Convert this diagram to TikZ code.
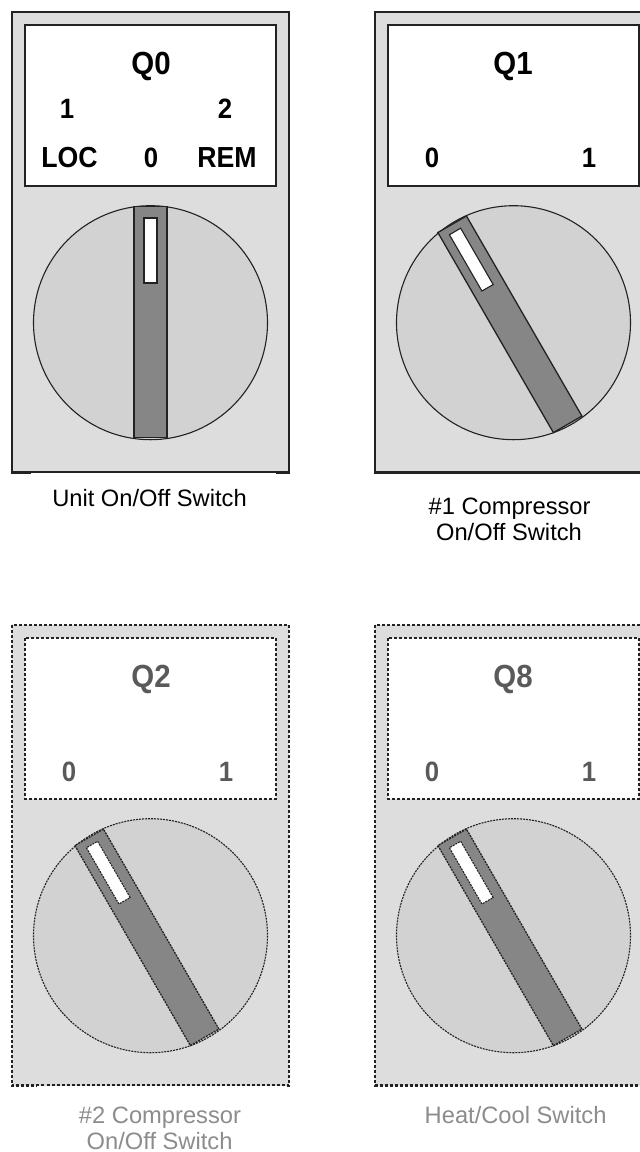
\documentclass[tikz,border=0pt]{standalone}
\usepackage{fontspec}
\setmainfont{Liberation Sans}
\newfontfamily\tallfont[FakeStretch=0.92]{Liberation Sans}
\definecolor{panelgray}{HTML}{DDDDDD}
\definecolor{dialgray}{HTML}{D2D2D2}
\definecolor{bargray}{HTML}{868686}
\definecolor{linedark}{HTML}{222222}
\definecolor{fadetext}{HTML}{5A5A5A}
\definecolor{captiongray}{HTML}{8C8C8C}
\tikzset{
  x=1pt,y=-1pt,
  panel/.style={fill=panelgray,draw=linedark,line width=2.2pt},
  labelbox/.style={fill=white,draw=linedark,line width=2.1pt},
  dial/.style={fill=dialgray,draw=linedark,line width=1.1pt},
  bar/.style={fill=bargray,draw=linedark,line width=1.3pt},
  slit/.style={fill=white,draw=linedark,line width=1.1pt},
  dashA/.style={dash pattern=on 3pt off 2pt},
  dashB/.style={dash pattern=on 2pt off 1pt},
  swA/.style={anchor=base,font=\tallfont\fontsize{32}{32}\selectfont\bfseries},
  swB/.style={anchor=base,font=\tallfont\fontsize{28}{28}\selectfont\bfseries},
  swC/.style={anchor=base,font=\tallfont\fontsize{29}{29}\selectfont\bfseries},
  captxt/.style={anchor=base,font=\fontsize{23.7}{23.7}\selectfont},
}
% #1 x, #2 y, #3 rotation, #4 panel line style, #5 dial line style, #6 bar shift, #7 slit shift
\newcommand{\switchpanel}[7]{%
  \begin{scope}[shift={(#1,#2)}]
    \draw[panel,#4] (12,12) rectangle (289,472.5);
    \draw[labelbox,#4] (25,25) rectangle (276,186);
    \draw[dial,#5] (150.5,322.7) circle[radius=117];
    \begin{scope}[shift={(150.5,322.7)},shift={#6},rotate=#3]
      \draw[bar,#5] (-16.5,-115.5) rectangle (16.5,115.5);
      \begin{scope}[shift={#7}]
        \draw[slit,#5] (-6.5,-104) rectangle (6.5,-39);
      \end{scope}
    \end{scope}
  \end{scope}}
\begin{document}
\begin{tikzpicture}
\useasboundingbox (0,0) rectangle (640,1152);
\clip (0,0) rectangle (640,1152);
\switchpanel{0}{0}{0}{}{}{(0,-0.7)}{(0,0)}
\switchpanel{363}{0}{30}{}{}{(-3.6,1.6)}{(-1.1,-3.8)}
\switchpanel{0}{613}{30}{dashA}{dashB}{(-3.6,1.6)}{(-1.1,-3.8)}
\switchpanel{363}{613}{30}{dashA}{dashB}{(-3.6,1.6)}{(-1.1,-3.8)}
\draw[white,line width=1pt] (31,473.5) -- (276,473.5);
\draw[white,line width=1pt] (37,1086.5) -- (285,1086.5);
\node[swA] (q0) at (151,74) {Q0};
\node[swB] (q0a) at (67,118) {1};
\node[swB] (q0b) at (225,118) {2};
\node[swC] (q0c) at (69.5,167.5) {LOC};
\node[swB] (q0d) at (151,167.5) {0};
\node[swC] (q0e) at (227,167.5) {REM};
\node[swA] (q1) at (513,74) {Q1};
\node[swB] (q1a) at (432,167.5) {0};
\node[swB] (q1b) at (589,167.5) {1};
\node[swA,text=fadetext] (q2) at (151,687.5) {Q2};
\node[swB,text=fadetext] (q2a) at (69,781) {0};
\node[swB,text=fadetext] (q2b) at (226,781) {1};
\node[swA,text=fadetext] (q8) at (513,687.5) {Q8};
\node[swB,text=fadetext] (q8a) at (432,781) {0};
\node[swB,text=fadetext] (q8b) at (589,781) {1};
\node[captxt] (c0) at (149.5,506) {Unit On/Off Switch};
\node[captxt] (c1) at (509.6,514) {\#1 Compressor};
\node[captxt] (c1b) at (509,540) {On/Off Switch};
\node[captxt,text=captiongray] (c2) at (160,1123) {\#2 Compressor};
\node[captxt,text=captiongray] (c2b) at (159.6,1149) {On/Off Switch};
\node[captxt,text=captiongray] (c3) at (515.6,1123) {Heat/Cool Switch};
\end{tikzpicture}
\end{document}
